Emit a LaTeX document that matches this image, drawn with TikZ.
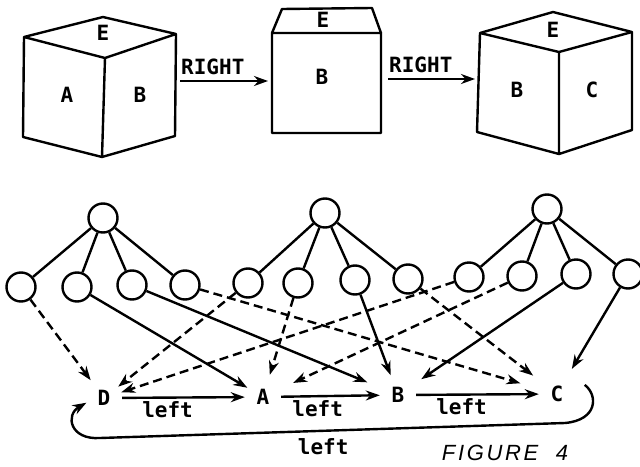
\documentclass[tikz,border=0pt]{standalone}
\usepackage{fontspec}
\setmonofont{DejaVu Sans Mono}
\newfontfamily\handfont[LetterSpace=12]{Liberation Sans}
\usetikzlibrary{arrows.meta}

\begin{document}
\begin{tikzpicture}[x=1pt, y=-1pt, line width=2.4pt, line join=round,
        vector/.style={->}, pointer/.style={->, dash pattern=on 9pt off 5pt},
        >={Stealth[length=14pt, width=10pt]},
        state/.style={circle, draw, minimum size=29pt, inner sep=0pt},
        face/.style={circle, inner sep=0pt, minimum size=34pt},
        font=\ttfamily\bfseries\fontsize{21}{23}\selectfont]
            \useasboundingbox (0,0) rectangle (640,466);

            % the three cubes
            \draw (24,37) -- (103,17) -- (176,34) -- (175,136) -- (102,157) -- (23,137) -- cycle
                (24,37) -- (105,58) -- (176,34) (105,58) -- (102,157);
            \node (e1) at (103,33) {E};
            \node (a1) at (67,95) {A};
            \node (b1) at (140,95) {B};

            \draw (272,33) -- (282,9) -- (372,8) -- (381,33) -- (381,133) -- (272,133) -- cycle
                (272,33) -- (381,33);
            \node (e2) at (323,20) {E};
            \node (b2) at (322,77) {B};

            \draw (480,33) -- (553,12) -- (632,32) -- (632,130) -- (559,154) -- (477,132) -- cycle
                (480,33) -- (559,52) -- (632,32) (559,52) -- (559,154);
            \node (e3) at (553,30) {E};
            \node (b3) at (517,90) {B};
            \node (c3) at (592,90) {C};

            \coordinate (m1) at (180,81);
            \coordinate (n1) at (268,81);
            \coordinate (m2) at (388,79);
            \coordinate (n2) at (475,79);
            \foreach \s/\e in {m1/n1, m2/n2}
                \draw[vector] (\s) -- (\e) node[pos=0, anchor=south west, inner sep=0pt, yshift=5pt] {RIGHT};

            % the graph
            \node[state] (r1) at (103,218) {};
            \node[state] (r2) at (325,213) {};
            \node[state] (r3) at (547,209) {};
            \foreach \n/\x/\y in {1/21/287, 2/77/287, 3/132/285, 4/185/285, 5/248/283, 6/298/283,
                    7/355/280, 8/408/279, 9/469/277, 10/522/276, 11/576/274, 12/628/274}
                \node[state] (c\n) at (\x,\y) {};
            \foreach \n/\r in {1/1, 2/1, 3/1, 4/1, 5/2, 6/2, 7/2, 8/2, 9/3, 10/3, 11/3, 12/3}
                \draw (r\r) -- (c\n);

            \node[face] (D) at (104,398) {D};
            \node[face] (A) at (263,397) {A};
            \node[face] (B) at (398,395) {B};
            \node[face] (C) at (557,394) {C};

            \foreach \n/\t/\s in {2/A/0, 3/B/15, 7/B/3, 11/B/10, 12/C/11}
                \draw[vector, shorten >=\s pt] (c\n) -- (\t);
            \foreach \n/\t/\s in {1/D/4, 4/C/20, 5/D/0, 6/A/5, 8/C/12, 9/D/0, 10/A/15}
                \draw[pointer, shorten >=\s pt] (c\n) -- (\t);

            \foreach \s/\e in {D/A, A/B, B/C}
                \draw[vector] (\s) -- (\e) node[pos=0.37, below=1pt, inner sep=2pt] {left};
            \draw[vector] ([xshift=12pt]C.30) .. controls (598,395) and (598,420) .. (565,423)
                -- node[pos=0.52, below=5pt, inner sep=2pt] {left} (100,438)
                .. controls (70,440) and (65,415) .. (D.195);

            \node (fig) at (505,453) {\handfont\mdseries\itshape\fontsize{22}{24}\selectfont FIGURE\ \ 4};
        \end{tikzpicture}
\end{document}
